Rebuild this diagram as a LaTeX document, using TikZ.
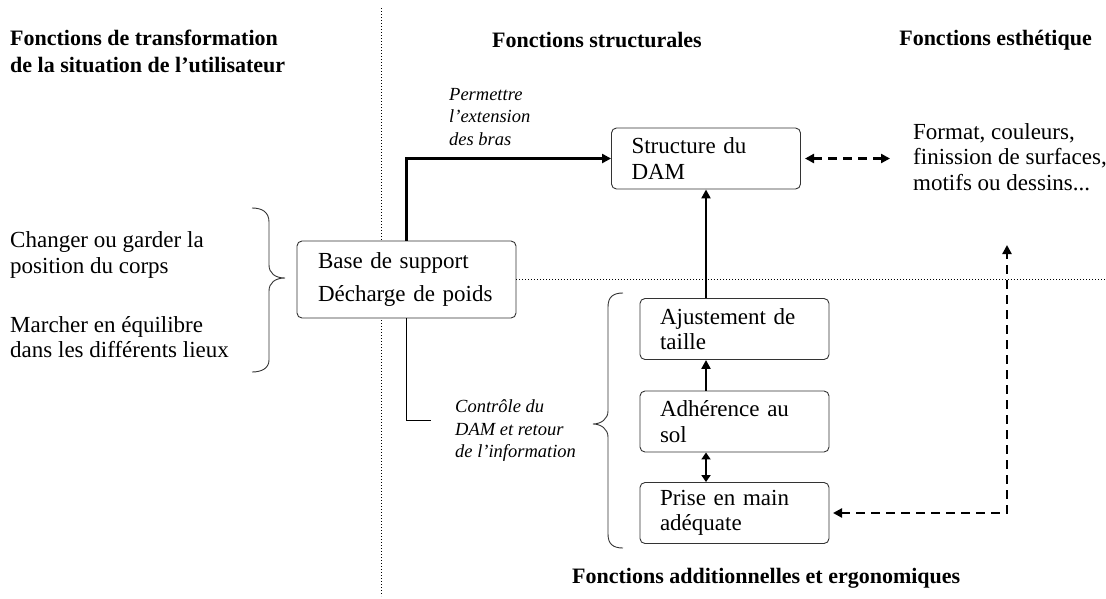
\documentclass[tikz,border=0pt]{standalone}
\usepackage{fontspec}
\setmainfont{Liberation Serif}
\usetikzlibrary{arrows.meta}
\newcommand\bfnt{\fontsize{23}{25.5}\selectfont}
\newcommand\hfnt{\fontsize{22}{27}\selectfont\bfseries}
\newcommand\ifnt{\fontsize{18.5}{22.5}\selectfont\itshape}
\tikzset{
  boxnode/.style={draw=black!80, fill=white, line width=0.9pt, rounded corners=5pt,
    minimum height=61pt, text width=149pt, inner xsep=20pt, inner ysep=0pt,
    align=left, font=\bfnt},
  basebox/.style={boxnode, minimum height=77pt, text width=177pt, inner xsep=21pt},
  heading/.style={font=\hfnt, inner sep=0pt},
  plain/.style={font=\bfnt, inner sep=0pt, align=left},
  lbl/.style={font=\ifnt, inner sep=0pt, align=left},
  sep/.style={line width=1pt, dotted},
  thickarrow/.style={line width=2.4pt, -{Triangle[length=9pt,width=9pt]}},
  dasharrow/.style={line width=2.6pt, dash pattern=on 9pt off 6pt,
    {Triangle[length=9pt,width=9pt]}-{Triangle[length=9pt,width=9pt]}},
  bracel/.style={line width=0.9pt, draw=black!80}
}
\begin{document}
\begin{tikzpicture}[x=1pt,y=-1pt]
\useasboundingbox (0,0) rectangle (1106,598);
% separators
\coordinate (vt) at (381,8);
\coordinate (vb) at (381,596);
\draw[sep] (vt) -- (vb);
% headings
\node[heading, anchor=north west, align=left] (h1) at (10,30) {Fonctions de transformation\\de la situation de l’utilisateur};
\node[heading, anchor=west] (h2) at (492,40) {Fonctions structurales};
\node[heading, anchor=east] (h3) at (1092,40) {Fonctions esthétique};
\node[heading, anchor=west] (h4) at (572,578) {Fonctions additionnelles et ergonomiques};
% boxes
\node[basebox] (base) at (406.5,279.5) {Base de support\\[7.5pt]Décharge de poids};
\node[boxnode] (struct) at (706,158.5) {Structure du\\DAM};
\node[boxnode] (ajust) at (734.5,329) {Ajustement de\\taille};
\node[boxnode] (adher) at (734.5,421.5) {Adhérence au\\sol};
\node[boxnode] (prise) at (734.5,513) {Prise en main\\adéquate};
% horizontal separator
\coordinate (hr) at (1106,279.5);
\draw[sep] (base.east) -- (hr);
% left texts
\node[plain, anchor=west] (t1) at (10,255) {Changer ou garder la\\position du corps};
\node[plain, anchor=west] (t2) at (10,337) {Marcher en équilibre\\dans les différents lieux};
% esthetic text
\node[plain, anchor=west] (fmt) at (913,157) {Format, couleurs,\\finission de surfaces,\\motifs ou dessins...};
% labels
\node[lbl, anchor=west] (l1) at (449,117) {Permettre\\l’extension\\des bras};
\node[lbl, anchor=west] (l2) at (455,431) {Contrôle du\\DAM et retour\\de l’information};
% braces
\draw[bracel] (252,208) .. controls (262,208) and (269,212) .. (269,222) -- (269,265)
  .. controls (269,273) and (275,278) .. (285,278)
  .. controls (275,278) and (269,283) .. (269,291) -- (269,360)
  .. controls (269,368) and (262,372) .. (252,372);
\draw[bracel] (623,293) .. controls (613,293) and (608,297) .. (608,307) -- (608,411)
  .. controls (608,419) and (601,424) .. (593,424)
  .. controls (601,424) and (608,429) .. (608,437) -- (608,534)
  .. controls (608,544) and (613,548) .. (623,548);
% connectors
\draw[thickarrow] (base.north) |- (struct.west);
\coordinate (ctl) at (431,420);
\draw[line width=0.9pt] (base.south) |- (ctl);
\draw[thickarrow] (ajust.north -| struct.south) -- (struct.south);
\draw[thickarrow] (adher.north -| struct.south) -- (ajust.south -| struct.south);
\draw[line width=2.4pt, {Triangle[length=7pt,width=9pt]}-{Triangle[length=7pt,width=9pt]}] (adher.south -| struct.south) -- (prise.north -| struct.south);
\coordinate (fl) at (805,158.5);
\coordinate (fr) at (890,158.5);
\draw[dasharrow] (fl) -- (fr);
\coordinate (fs) at (1007,245);
\coordinate (pe) at (833,513);
\draw[dasharrow] (pe) -| (fs);
\end{tikzpicture}
\end{document}
